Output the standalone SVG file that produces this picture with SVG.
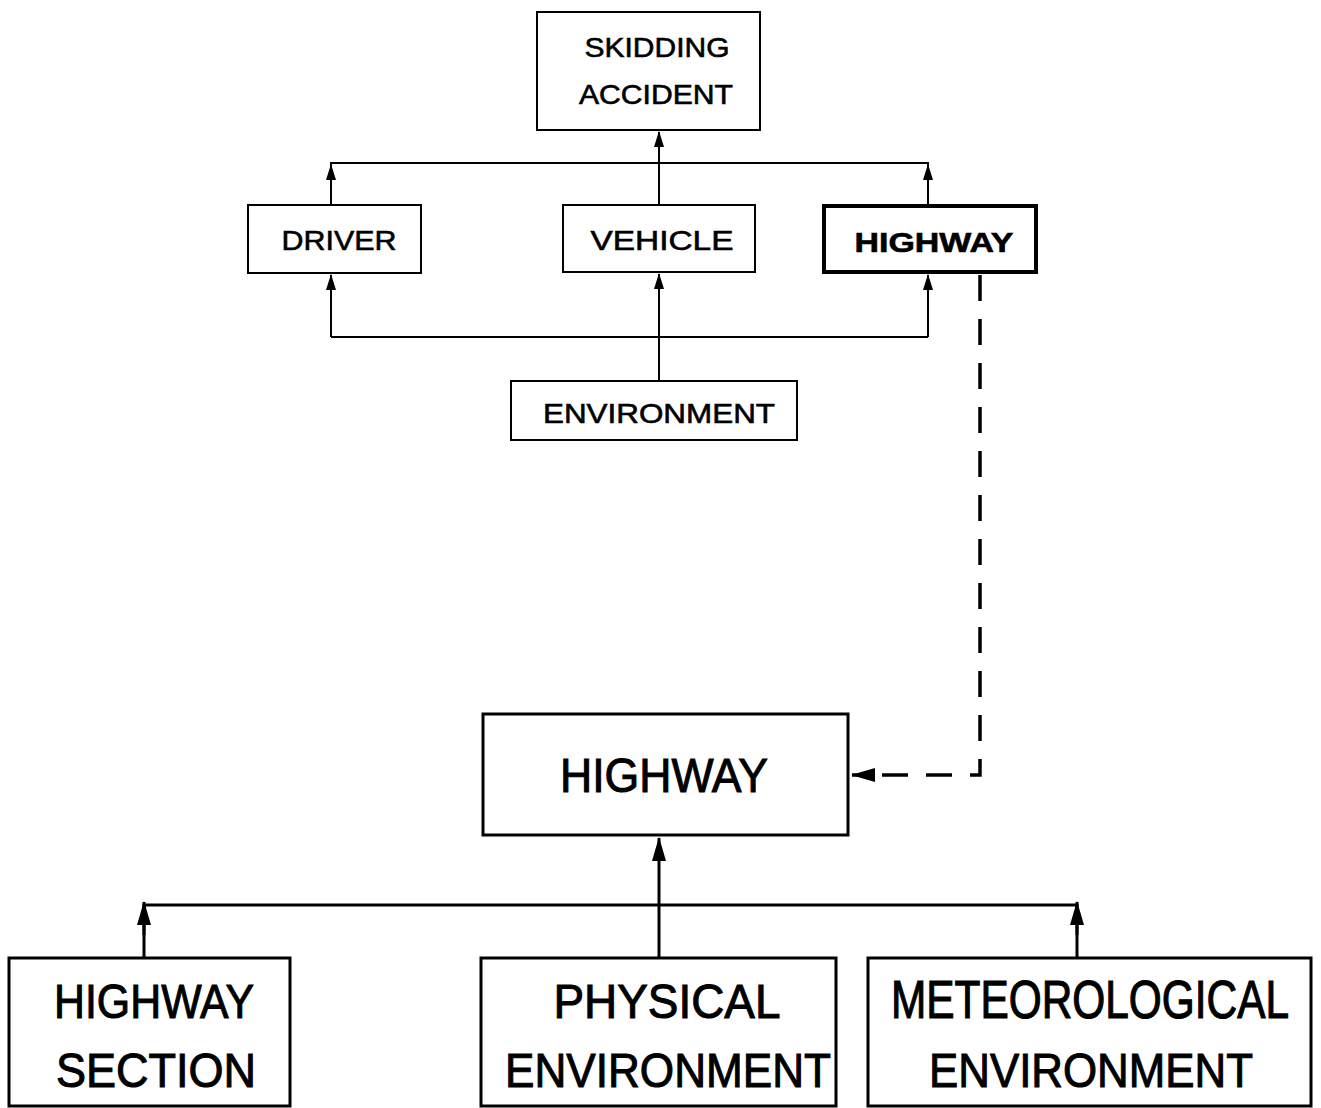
<svg xmlns="http://www.w3.org/2000/svg" width="1321" height="1108" viewBox="0 0 1321 1108">
<defs>
<marker id="ah" markerWidth="16" markerHeight="10" refX="15" refY="5" orient="auto" markerUnits="userSpaceOnUse" viewBox="0 0 16 10">
<path d="M0,0 L16,5 L0,10 Z" fill="#000"/>
</marker>
<marker id="ahb" markerWidth="24" markerHeight="16" refX="23" refY="8" orient="auto" markerUnits="userSpaceOnUse" viewBox="0 0 24 16">
<path d="M0,1 L24,8 L0,15 Z" fill="#000"/>
</marker>
</defs>
<style>
.box{fill:#fff;stroke:#000;stroke-width:2}
.bbox{fill:#fff;stroke:#000;stroke-width:3}
.t{font-family:"Liberation Sans",Arial,sans-serif;fill:#000;stroke:#000;text-anchor:middle}
.s{font-size:28px;stroke-width:0.6}
.L{font-size:48px;stroke-width:1}
.c{fill:none;stroke:#000;stroke-width:2}
.cb{fill:none;stroke:#000;stroke-width:3}
</style>
<rect width="1321" height="1108" fill="#fff"/>
<g id="connectors">
<path class="c" d="M659,205 V132" marker-end="url(#ah)"/>
<path class="c" d="M331,205 V163 H928 V205"/>
<path class="c" d="M331,190 V165" marker-end="url(#ah)"/>
<path class="c" d="M928,190 V165" marker-end="url(#ah)"/>
<path class="c" d="M659,381 V274" marker-end="url(#ah)"/>
<path class="c" d="M331,337 H928"/>
<path class="c" d="M331,337 V275" marker-end="url(#ah)"/>
<path class="c" d="M928,337 V275" marker-end="url(#ah)"/>
<path d="M980,275 V775 H852" fill="none" stroke="#000" stroke-width="3.5" stroke-dasharray="26,18" marker-end="url(#ahb)"/>
<path class="cb" d="M659,958 V838" marker-end="url(#ahb)"/>
<path class="cb" d="M144,958 V905 H1077 V958"/>
<path class="cb" d="M144,935 V902" marker-end="url(#ahb)"/>
<path class="cb" d="M1077,935 V902" marker-end="url(#ahb)"/>
</g>
<g id="skidding-accident">
<rect class="box" x="537" y="12" width="223" height="118"/>
<text class="t s" x="657" y="57" textLength="145" lengthAdjust="spacingAndGlyphs">SKIDDING</text>
<text class="t s" x="656" y="104" textLength="154" lengthAdjust="spacingAndGlyphs">ACCIDENT</text>
</g>
<g id="driver">
<rect class="box" x="248" y="205" width="173" height="68"/>
<text class="t s" x="339" y="250" textLength="115" lengthAdjust="spacingAndGlyphs">DRIVER</text>
</g>
<g id="vehicle">
<rect class="box" x="563" y="205" width="192" height="67"/>
<text class="t s" x="662" y="250" textLength="143" lengthAdjust="spacingAndGlyphs">VEHICLE</text>
</g>
<g id="highway-top">
<rect x="824" y="206" width="212" height="66" fill="#fff" stroke="#000" stroke-width="4"/>
<text class="t s" x="934" y="252" font-weight="bold" textLength="159" lengthAdjust="spacingAndGlyphs">HIGHWAY</text>
</g>
<g id="environment">
<rect class="box" x="511" y="381" width="286" height="59"/>
<text class="t s" x="659" y="423" textLength="232" lengthAdjust="spacingAndGlyphs">ENVIRONMENT</text>
</g>
<g id="highway">
<rect class="bbox" x="483" y="714" width="365" height="121"/>
<text class="t L" x="664" y="792" textLength="208" lengthAdjust="spacingAndGlyphs">HIGHWAY</text>
</g>
<g id="highway-section">
<rect class="bbox" x="9" y="958" width="281" height="148"/>
<text class="t L" x="154" y="1018" textLength="200" lengthAdjust="spacingAndGlyphs">HIGHWAY</text>
<text class="t L" x="156" y="1087" textLength="200" lengthAdjust="spacingAndGlyphs">SECTION</text>
</g>
<g id="physical-environment">
<rect class="bbox" x="481" y="958" width="355" height="148"/>
<text class="t L" x="667" y="1018" textLength="227" lengthAdjust="spacingAndGlyphs">PHYSICAL</text>
<text class="t L" x="668" y="1087" textLength="326" lengthAdjust="spacingAndGlyphs">ENVIRONMENT</text>
</g>
<g id="meteorological-environment">
<rect class="bbox" x="868" y="958" width="443" height="148"/>
<text class="t L" transform="translate(1090,1018) scale(1,1.12)" x="0" y="0" font-size="42" textLength="398" lengthAdjust="spacingAndGlyphs">METEOROLOGICAL</text>
<text class="t L" x="1091" y="1087" textLength="324" lengthAdjust="spacingAndGlyphs">ENVIRONMENT</text>
</g>
</svg>
